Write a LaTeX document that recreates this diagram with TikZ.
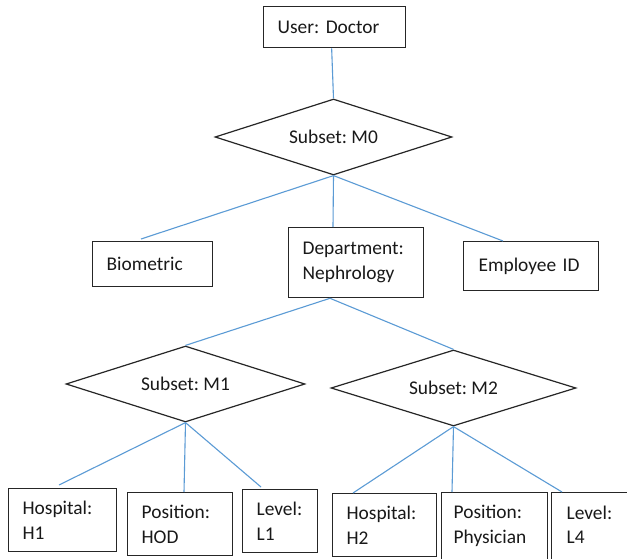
\documentclass[tikz,border=0pt]{standalone}
\usepackage{fontspec}
\setmainfont{Carlito}
\usetikzlibrary{shapes.geometric}
\definecolor{linkblue}{HTML}{5B9BD5}
\definecolor{edgegray}{HTML}{262626}
\frenchspacing
\begin{document}
\begin{tikzpicture}[x=1pt,y=-1pt,
  box/.style={draw=edgegray, rectangle, line width=1.3pt, inner xsep=14pt, inner ysep=0pt,
    align=left, anchor=north west, font=\fontsize{19.4}{24.5}\selectfont, text=black!90},
  dia/.style={draw=edgegray, diamond, line width=1.2pt, inner sep=0pt, shape aspect=3,
    font=\fontsize{19.4}{24.5}\selectfont, text=black!90},
  link/.style={draw=linkblue, line width=1.1pt}]
\useasboundingbox (0,0) rectangle (627,559);
\clip (0,0) rectangle (627,559);
\fill[white] (0,0) rectangle (627,559);

% top
\node[box, text width=114pt, minimum height=41pt] (user) at (263,6) {User: Doctor};
\node[dia, minimum width=237pt, minimum height=76pt] (m0) at (333.5,137) {Subset: M0};

% middle row
\node[box, text width=92pt, minimum height=45pt] (bio) at (92,241) {Biometric};
\node[box, text width=107pt, minimum height=70pt] (dept) at (288,227) {Department:\\Nephrology};
\node[box, inner xsep=15pt, text width=105pt, minimum height=49pt] (emp) at (463,241) {Employee ID};

% second level diamonds
\node[dia, minimum width=239pt, minimum height=76pt] (m1) at (185.5,384) {Subset: M1};
\node[dia, minimum width=245pt, minimum height=76pt] (m2) at (453.5,388) {Subset: M2};

% bottom row
\node[box, text width=80pt, minimum height=63pt] (h1) at (8,488) {Hospital:\\H1};
\node[box, text width=77pt, minimum height=63pt] (hod) at (127,492) {Position:\\HOD};
\node[box, text width=47pt, minimum height=63pt] (l1) at (242,489) {Level:\\L1};
\node[box, text width=76pt, minimum height=63pt] (h2) at (332,493) {Hospital:\\H2};
\node[box, inner xsep=12pt, text width=82pt, minimum height=73pt, text depth=34pt] (phys) at (441,492) {Position:\\Physician};
\node[box, inner xsep=15pt, text width=60pt, minimum height=73pt, text depth=33pt] (l4) at (551,492) {Level:\\L4};

% connectors
\draw[link] ([xshift=-3pt]user.south) -- (m0.north);
\draw[link] (m0.south) -- ([xshift=49pt,yshift=2pt]bio.north west);
\draw[link] (m0.south) -- ([xshift=45pt]dept.north west);
\draw[link] (m0.south) -- ([xshift=40pt]emp.north west);

\draw[link] ([xshift=42pt]dept.south west) -- (m1.north);
\draw[link] ([xshift=42pt]dept.south west) -- (m2.north);

\draw[link] (m1.south) -- ([xshift=51pt,yshift=3pt]h1.north west);
\draw[link] (m1.south) -- ([xshift=57pt]hod.north west);
\draw[link] (m1.south) -- ([xshift=19pt,yshift=2pt]l1.north west);

\draw[link] (m2.south) -- ([xshift=21pt]h2.north west);
\draw[link] (m2.south) -- ([xshift=11pt]phys.north west);
\draw[link] (m2.south) -- ([xshift=11pt]l4.north west);
\end{tikzpicture}
\end{document}
